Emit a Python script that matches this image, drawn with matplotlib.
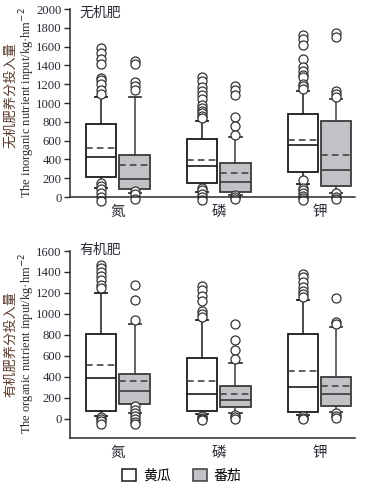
import matplotlib
matplotlib.use('Agg')
import matplotlib.pyplot as plt
from matplotlib.patches import Patch

plt.rcParams['font.family'] = ['Liberation Serif', 'Noto Sans CJK SC']

nutrients = ['氮', '磷', '钾']
crops = ['黄瓜', '番茄']

# 无机肥 (inorganic) : cucumber / tomato, for N, P, K
inorg_cuc_q1 = [213, 149, 263]
inorg_cuc_med = [426, 330, 554]
inorg_cuc_q3 = [774, 618, 881]
inorg_cuc_lo = [96, 53, 139]
inorg_cuc_hi = [1066, 810, 1130]
inorg_cuc_mean = [519, 394, 607]
inorg_cuc_fliers = [
    [1580, 1530, 1465, 1415, 1270, 1245, 1200, 1140, 1100, 150, 120, 85, 45, 0, -40],
    [1280, 1230, 1170, 1130, 1080, 1040, 980, 950, 920, 890, 860, 840, 100, 70, 30, 0, -30],
    [1720, 1680, 1620, 1470, 1380, 1340, 1300, 1280, 1200, 1180, 1150, 180, 100, 70, 40, 15, -10, -35],
]
inorg_tom_q1 = [85, 53, 114]
inorg_tom_med = [192, 156, 291]
inorg_tom_q3 = [448, 362, 810]
inorg_tom_lo = [43, 25, 43]
inorg_tom_hi = [1066, 639, 1041]
inorg_tom_mean = [341, 259, 444]
inorg_tom_fliers = [
    [1450, 1420, 1220, 1180, 1140, 60, 30, -20],
    [1180, 1140, 1090, 850, 760, 660, 20, 0, -20],
    [1740, 1700, 1130, 1100, 1060, 40, 0, -20],
]

# 有机肥 (organic)
org_cuc_q1 = [76, 76, 70]
org_cuc_med = [393, 241, 301]
org_cuc_q3 = [808, 577, 808]
org_cuc_lo = [32, 44, 38]
org_cuc_hi = [1204, 947, 1131]
org_cuc_mean = [510, 364, 459]
org_cuc_fliers = [
    [1470, 1440, 1400, 1360, 1320, 1280, 1250, 20, 0, -20, -50],
    [1270, 1230, 1170, 1120, 1030, 1000, 970, 30, 10, 0, -10],
    [1380, 1350, 1300, 1260, 1220, 1190, 1160, 30, 10, 0],
]
org_tom_q1 = [146, 111, 124]
org_tom_med = [269, 184, 238]
org_tom_q3 = [425, 310, 396]
org_tom_lo = [60, 54, 63]
org_tom_hi = [903, 529, 878]
org_tom_mean = [364, 238, 310]
org_tom_fliers = [
    [1280, 1130, 940, 120, 90, 60, 30, 0, -30, -50],
    [900, 750, 660, 570, 40, 20, 0],
    [1150, 920, 900, 60, 30, 10],
]


def stats(q1, med, q3, lo, hi, mean, fliers):
    return [dict(q1=q1[i], med=med[i], q3=q3[i], whislo=lo[i], whishi=hi[i],
                 mean=mean[i], fliers=fliers[i]) for i in range(len(q1))]


text_c = '#2b2b38'
edge_c = '#2a2a2a'
tom_fill = '#c2c2c6'

fig = plt.figure(figsize=(3.67, 4.87), dpi=100)
ax1 = fig.add_axes([70/367, 1-197/487, 285/367, 188/487])
ax2 = fig.add_axes([70/367, 1-438/487, 285/367, 187/487])


def draw(ax, cuc, tom):
    for st, pos_off, fc, ec in [(cuc, -0.165, 'white', '#1a1a1a'), (tom, 0.165, tom_fill, '#3a3a3a')]:
        ax.bxp(st, positions=[1 + pos_off, 2 + pos_off, 3 + pos_off], widths=0.30,
               patch_artist=True, showmeans=True, meanline=True, capwidths=0.12,
               boxprops=dict(facecolor=fc, edgecolor=ec, linewidth=1.3),
               medianprops=dict(color=ec, linewidth=1.2),
               meanprops=dict(color='#444444', linestyle=(0, (4, 2.5)), linewidth=1.2),
               whiskerprops=dict(color=ec, linewidth=1.1),
               capprops=dict(color=ec, linewidth=1.3),
               flierprops=dict(marker='o', markersize=6.5, markerfacecolor='white',
                               markeredgecolor='#333333', markeredgewidth=0.9, clip_on=False))
    ax.set_xlim(0.525, 3.35)
    ax.set_xticks([1, 2, 3])
    ax.set_xticklabels(nutrients, family='Noto Sans CJK SC', fontsize=10.5, color=text_c)
    ax.tick_params(axis='x', length=0, pad=6)
    ax.tick_params(axis='y', direction='out', length=4, width=1, labelsize=9.2,
                   colors=edge_c, labelcolor=text_c, pad=2)
    for s in ['top', 'right']:
        ax.spines[s].set_visible(False)
    for s in ['left', 'bottom']:
        ax.spines[s].set_linewidth(1.1)
        ax.spines[s].set_color(edge_c)


draw(ax1, stats(inorg_cuc_q1, inorg_cuc_med, inorg_cuc_q3, inorg_cuc_lo, inorg_cuc_hi, inorg_cuc_mean, inorg_cuc_fliers),
     stats(inorg_tom_q1, inorg_tom_med, inorg_tom_q3, inorg_tom_lo, inorg_tom_hi, inorg_tom_mean, inorg_tom_fliers))
ax1.set_ylim(0, 2000)
ax1.set_yticks(range(0, 2001, 200))

draw(ax2, stats(org_cuc_q1, org_cuc_med, org_cuc_q3, org_cuc_lo, org_cuc_hi, org_cuc_mean, org_cuc_fliers),
     stats(org_tom_q1, org_tom_med, org_tom_q3, org_tom_lo, org_tom_hi, org_tom_mean, org_tom_fliers))
ax2.set_ylim(-181, 1600)
ax2.set_yticks(range(0, 1601, 200))

# panel titles
fig.text(79/367, 1-13/487, '无机肥', family='Noto Sans CJK SC', fontsize=10, color=text_c, va='center')
fig.text(79/367, 1-250/487, '有机肥', family='Noto Sans CJK SC', fontsize=10, color=text_c, va='center')

# y labels
lab_c = '#5a3a2c'
fig.text(11/367, 1-95/487, '无机肥养分投入量', family='Noto Sans CJK SC', fontsize=9.5,
         rotation=90, ha='center', va='center', color=lab_c)
fig.text(27/367, 1-103/487, 'The inorganic nutrient input/kg·hm$^{-2}$', fontsize=9,
         rotation=90, ha='center', va='center', color='#2b2b2b')
fig.text(11/367, 1-344/487, '有机肥养分投入量', family='Noto Sans CJK SC', fontsize=9.5,
         rotation=90, ha='center', va='center', color=lab_c)
fig.text(27/367, 1-343/487, 'The organic nutrient input/kg·hm$^{-2}$', fontsize=9,
         rotation=90, ha='center', va='center', color='#2b2b2b')

handles = [Patch(facecolor='white', edgecolor='#1a1a1a', linewidth=1.1),
           Patch(facecolor=tom_fill, edgecolor='#3a3a3a', linewidth=1.1)]
fig.legend(handles, crops, loc='center', bbox_to_anchor=(182/367, 1-476/487), ncol=2,
           frameon=False, prop={'family': 'Noto Sans CJK SC', 'size': 10},
           handlelength=1.0, handleheight=1.0, handletextpad=0.5, columnspacing=1.6)

fig.savefig('out.png', dpi=100)
